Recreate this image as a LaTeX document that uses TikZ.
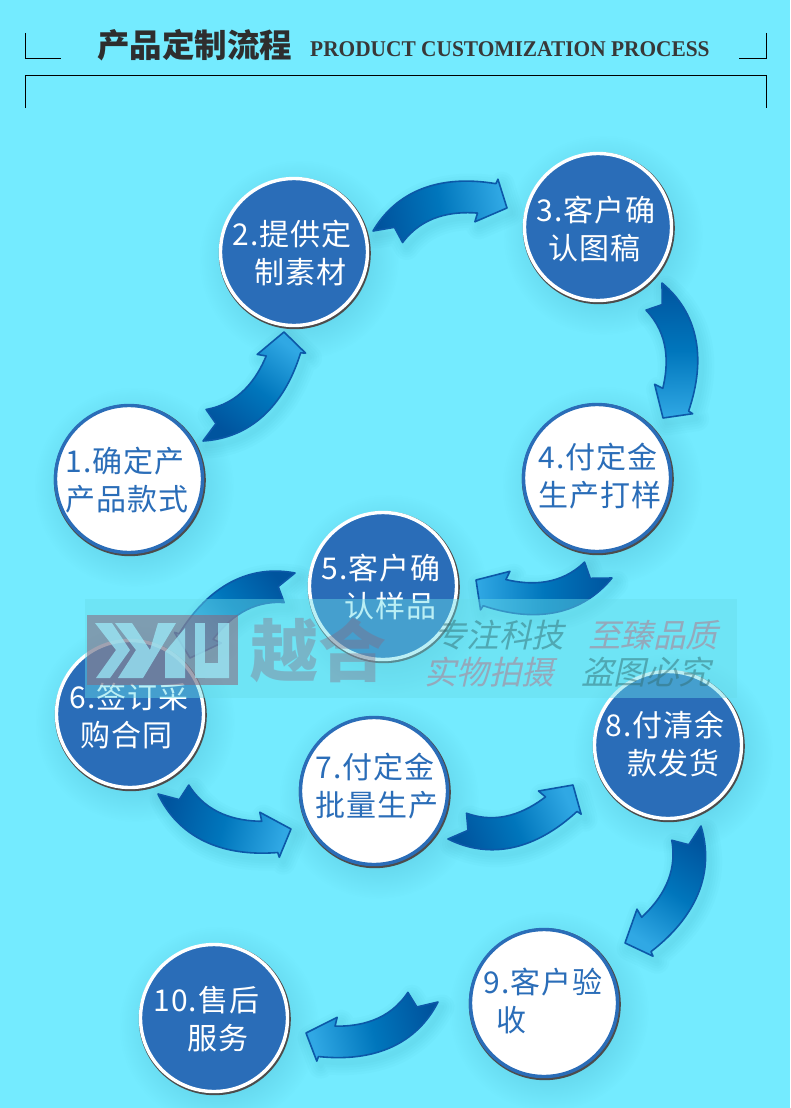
\documentclass[tikz,border=0pt]{standalone}
\usepackage{fontspec}
\usepackage{xcolor}
\usetikzlibrary{calc,fadings}
\newfontfamily\cjk{Noto Sans CJK SC}
\newfontfamily\stepfont[LetterSpace=4]{Noto Sans CJK SC}
\newfontfamily\titleserif{Liberation Serif}
\definecolor{pagecyan}{RGB}{116,235,255}
\definecolor{stepblue}{RGB}{42,109,184}
\definecolor{arrowdark}{RGB}{0,84,158}
\definecolor{arrowmid}{RGB}{0,118,188}
\definecolor{arrowlight}{RGB}{48,168,228}
\definecolor{arrowedge}{RGB}{12,88,168}
\definecolor{haloblue}{RGB}{20,110,140}
\definecolor{bandcyan}{RGB}{104,220,234}
\definecolor{markgrey}{RGB}{140,100,122}
\definecolor{markteal}{RGB}{50,110,115}
\definecolor{markpink}{RGB}{190,105,125}
\tikzfading[name=softedge,inner color=transparent!58,outer color=transparent!100]
\tikzset{
  darkstep/.style={circle,draw=white,fill=stepblue,line width=3.4pt,minimum size=147pt,inner sep=0pt},
  lightstep/.style={circle,draw=stepblue,fill=white,line width=3.4pt,minimum size=147pt,inner sep=0pt},
  stephalo/.style={fill=haloblue,path fading=softedge},
  stepcrescent/.style={fill=black!70},
  steptext/.style={anchor=west,align=left,inner sep=0pt,font=\stepfont\fontsize{30}{38.5}\selectfont},
  flowarrow/.style={draw=arrowedge,line width=1.6pt,line join=round},
  framerule/.style={line width=.9pt,black},
  logostroke/.style={fill=pagecyan!70!white,opacity=.7},
  slantmark/.style={xslant=.22,transform shape,inner sep=0pt,font=\cjk\fontsize{32.5}{32.5}\selectfont}
}
\newcommand{\arrowoutline}{(0,0) .. controls (.22,.26) and (.55,.33) .. (.95,.19)
  -- (.97,.22) -- (1,0) -- (.75,-.06) -- (.78,0)
  .. controls (.6,.045) and (.38,.05) .. (.20,-.12) -- (.16,0) -- cycle}
\newcommand{\flowlink}[3]{%
  \path let \p1=($(#2)-(#1)$) in \pgfextra{%
    \pgfmathsetmacro{\linkangle}{atan2(\y1,\x1)}%
    \pgfmathsetmacro{\linklength}{veclen(\x1,\y1)}%
    \xdef\linkangle{\linkangle}\xdef\linklength{\linklength}};
  \pgfmathsetmacro{\linkside}{#3*\linklength}
  \pgfmathsetmacro{\linkshade}{\linkangle-90}
  \foreach \w in {5,10,15,20,25}
    \draw[haloblue,opacity=.025,line width=\w pt,line join=round,shift={(#1)},xshift=4pt,yshift=-5pt,
      rotate=\linkangle,x=\linklength pt,y=\linkside pt] \arrowoutline;
  \shade[flowarrow,shift={(#1)},rotate=\linkangle,x=\linklength pt,y=\linkside pt,
    top color=arrowlight,bottom color=arrowdark,middle color=arrowmid,shading angle=\linkshade] \arrowoutline;
}
\begin{document}
\begin{tikzpicture}[x=1pt,y=-1pt]
  \useasboundingbox (0,0) rectangle (790,1108);
  \fill[pagecyan] (0,0) rectangle (790,1108);

  \draw[framerule] (25.5,33) -- (25.5,58.5) -- (61,58.5);
  \draw[framerule] (766.5,33) -- (766.5,58.5) -- (739,58.5);
  \draw[framerule] (25.5,108) -- (25.5,75.5) -- (766.5,75.5) -- (766.5,108);
  \node[anchor=west,inner sep=0pt,text=black!82,font=\cjk\bfseries\fontsize{32.5}{32.5}\selectfont] (titlecn) at (97,45) {产品定制流程};
  \node[anchor=west,inner sep=0pt,text=black!78,xscale=.95,transform shape,font=\titleserif\bfseries\fontsize{22.5}{22.5}\selectfont] (titleen) at (310,49) {PRODUCT CUSTOMIZATION PROCESS};

  \foreach \cx/\cy in {129/479,294/252,598/227,597/478,383/586,130/714,374/791,668/745,544/1003,214/1018}
    \fill[stephalo] (\cx+5,\cy+8) circle (100);

  \coordinate (tailone) at (203,441);
  \coordinate (headone) at (284,332);
  \coordinate (tailtwo) at (373,231);
  \coordinate (headtwo) at (507,208);
  \coordinate (tailthree) at (662,283);
  \coordinate (headthree) at (663,418);
  \coordinate (tailfour) at (612,578);
  \coordinate (headfour) at (476,580);
  \coordinate (tailfive) at (295,573);
  \coordinate (headfive) at (190,658);
  \coordinate (tailsix) at (158,794);
  \coordinate (headsix) at (291,829);
  \coordinate (tailseven) at (448,839);
  \coordinate (headseven) at (573,785);
  \coordinate (taileight) at (701,826);
  \coordinate (headeight) at (625,943);
  \coordinate (tailnine) at (438,1002);
  \coordinate (headnine) at (306,1033);

  \flowlink{tailone}{headone}{-1}
  \flowlink{tailtwo}{headtwo}{1}
  \flowlink{tailthree}{headthree}{1}
  \flowlink{tailfour}{headfour}{1}
  \flowlink{tailfive}{headfive}{-1}
  \flowlink{tailsix}{headsix}{-1}
  \flowlink{tailseven}{headseven}{-1}
  \flowlink{taileight}{headeight}{1}
  \flowlink{tailnine}{headnine}{1}

  \foreach \cx/\cy in {129/479,294/252,598/227,597/478,383/586,130/714,374/791,668/745,544/1003,214/1018}
    \fill[stepcrescent] (\cx+.8,\cy+1.2) circle (76);

  \node[lightstep] (stepone) at (129,479) {};
  \node[darkstep] (steptwo) at (294,252) {};
  \node[darkstep] (stepthree) at (598,227) {};
  \node[lightstep] (stepfour) at (597,478) {};
  \node[darkstep] (stepfive) at (383,586) {};
  \node[darkstep] (stepsix) at (130,714) {};
  \node[lightstep] (stepseven) at (374,791) {};
  \node[darkstep] (stepeight) at (668,745) {};
  \node[lightstep] (stepnine) at (544,1003) {};
  \node[darkstep] (stepten) at (214,1018) {};

  \node[steptext,text=stepblue] (textone) at (65,480) {1.确定产\\产品款式};
  \node[steptext,text=white] (texttwo) at (232,253) {2.提供定\\\hspace*{22pt}制素材};
  \node[steptext,text=white] (textthree) at (536,229) {3.客户确\\\hspace*{12pt}认图稿};
  \node[steptext,text=stepblue] (textfour) at (538,476) {4.付定金\\生产打样};
  \node[steptext,text=white] (textfive) at (321,587) {5.客户确\\\hspace*{23pt}认样品};
  \node[steptext,text=white] (textsix) at (69,716) {6.签订采\\\hspace*{11pt}购合同};
  \node[steptext,text=stepblue] (textseven) at (315,786) {7.付定金\\批量生产};
  \node[steptext,text=white] (texteight) at (605,744) {8.付清余\\\hspace*{22pt}款发货};
  \node[steptext,text=stepblue] (textnine) at (483,1001) {9.客户验\\\hspace*{13pt}收};
  \node[steptext,text=white] (textten) at (153,1019) {10.售后\\\hspace*{34pt}服务};

  \fill[bandcyan,opacity=.45] (85,599) rectangle (737,698);
  \fill[markgrey,opacity=.55] (87,615) rectangle (238,685);
  \fill[logostroke] (95,623) -- (112,623) -- (130,650) -- (110,678) -- (96,678) -- (116,650) -- cycle;
  \fill[logostroke] (115,623) -- (132,623) -- (150,650) -- (158,623) -- (176,623) -- (143,678) -- (118,678) -- (136,650) -- cycle;
  \fill[logostroke] (165,652) -- (185,628) -- (185,678) -- (165,678) -- cycle;
  \fill[logostroke] (195,623) -- (205,623) -- (205,678) -- (195,678) -- cycle;
  \fill[logostroke] (218,623) -- (229,623) -- (229,678) -- (205,678) -- (205,663) -- (218,663) -- cycle;
  \node[inner sep=0pt,text=markgrey,opacity=.36,font=\cjk\bfseries\fontsize{68}{68}\selectfont] (markname) at (318,650) {越合};
  \node[slantmark,text=markteal,opacity=.5] (markone) at (502,635) {专注科技};
  \node[slantmark,text=markpink,opacity=.48] (marktwo) at (656,635) {至臻品质};
  \node[slantmark,text=markpink,opacity=.48] (markthree) at (492,672) {实物拍摄};
  \node[slantmark,text=markteal,opacity=.5] (markfour) at (649,672) {盗图必究};
\end{tikzpicture}
\end{document}
